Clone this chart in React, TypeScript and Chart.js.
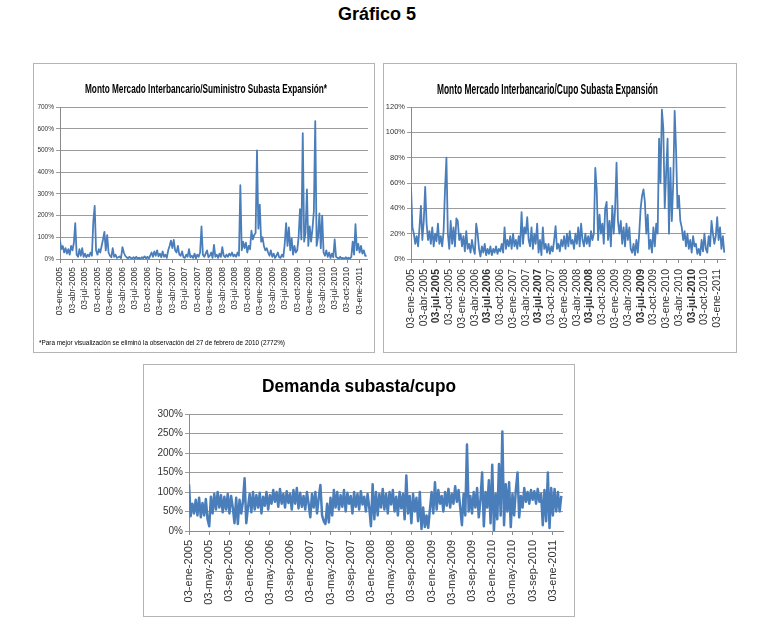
import React, { useEffect, useRef } from "react";
import { Chart, registerables } from "chart.js";

Chart.register(...registerables);

// ---------- data ----------
// Series sampled 3 times per month, starting 03-ene-2005 (month 0).
const SAMPLES_PER_MONTH = 3;

// Monto Mercado Interbancario / Suministro Subasta Expansión (%)
const SUMINISTRO = [
  85, 45, 60, 30, 50, 25, 45, 20, 60, 40, 75, 165, 20, 10, 45, 15, 50, 10,
  25, 8, 20, 12, 30, 15, 170, 245, 40, 20, 45, 30, 60, 90, 125, 40, 110, 30,
  15, 8, 50, 10, 20, 5, 8, 12, 4, 55, 30, 15, 8, 3, 10, 5, 2, 8,
  3, 10, 2, 6, 1, 8, 4, 12, 3, 10, 2, 15, 30, 10, 35, 15, 40, 12,
  25, 8, 35, 10, 20, 5, 40, 60, 85, 50, 88, 40, 30, 60, 20, 15, 35, 8,
  5, 20, 10, 45, 8, 15, 5, 25, 3, 20, 10, 30, 150, 20, 10, 25, 40, 8,
  15, 30, 5, 65, 10, 20, 5, 25, 10, 55, 15, 8, 20, 10, 25, 15, 30, 12,
  20, 10, 30, 15, 340, 40, 80, 50, 75, 30, 60, 45, 130, 90, 110, 120, 500, 140,
  250, 80, 100, 60, 40, 50, 30, 15, 40, 10, 25, 5, 15, 30, 8, 5, 20, 10,
  70, 165, 60, 145, 40, 95, 20, 60, 30, 40, 100, 230, 90, 580, 80, 120, 320, 60,
  150, 80, 140, 220, 635, 60, 100, 210, 50, 200, 30, 15, 40, 10, 30, 5, 25, 8,
  90, 10, 5, 3, 10, 2, 5, 1, 8, 2, 6, 1, 10, 80, 20, 160, 40, 70,
  30, 60, 25, 40, 15, 15,
];

// Monto Mercado Interbancario / Cupo Subasta Expansión (%)
const CUPO = [
  57, 25, 20, 12, 18, 10, 25, 42, 15, 30, 57, 28, 15, 22, 12, 25, 10, 20,
  14, 28, 12, 18, 10, 22, 55, 80, 20, 8, 30, 12, 25, 10, 32, 30, 15, 20,
  10, 18, 6, 22, 8, 12, 5, 15, 8, 4, 28, 20, 8, 2, 10, 5, 12, 3,
  8, 4, 10, 3, 8, 5, 10, 4, 8, 6, 12, 5, 25, 8, 15, 10, 18, 8,
  20, 10, 15, 8, 18, 10, 37, 12, 25, 20, 33, 15, 10, 25, 8, 20, 12, 28,
  5, 15, 3, 25, 8, 12, 5, 12, 4, 10, 6, 15, 26, 8, 12, 6, 15, 10,
  18, 8, 20, 10, 22, 12, 15, 8, 20, 12, 25, 10, 28, 15, 10, 20, 12, 18,
  10, 22, 15, 20, 72, 55, 15, 35, 20, 28, 12, 40, 45, 15, 30, 10, 42, 20,
  40, 76, 30, 20, 30, 12, 25, 10, 28, 15, 25, 8, 5, 12, 3, 15, 5, 20,
  40, 50, 55, 45, 20, 35, 8, 15, 5, 25, 10, 28, 20, 95, 60, 118, 103, 40,
  68, 95, 20, 72, 30, 60, 117, 86, 40, 50, 30, 25, 15, 22, 10, 20, 8, 15,
  5, 18, 10, 12, 4, 8, 3, 15, 6, 20, 8, 5, 18, 10, 30, 20, 12, 18,
  33, 15, 25, 8, 18, 5,
];

// Demanda subasta / cupo (%)
const DEMANDA = [
  120, 38, 70, 45, 80, 40, 85, 35, 72, 40, 82, 30, 12, 88, 45, 95, 55, 100,
  60, 92, 48, 88, 55, 95, 45, 90, 60, 20, 85, 18, 80, 45, 75, 135, 20, 60,
  95, 48, 100, 55, 92, 60, 98, 45, 88, 65, 100, 55, 92, 70, 105, 75, 100, 62,
  108, 70, 95, 60, 102, 72, 95, 55, 105, 70, 110, 58, 98, 62, 90, 55, 100, 70,
  35, 95, 60, 100, 45, 85, 118, 40, 25, 18, 70, 22, 85, 40, 105, 60, 100, 55,
  92, 62, 105, 50, 98, 70, 90, 45, 100, 62, 95, 55, 102, 68, 88, 50, 95, 60,
  12, 120, 30, 100, 40, 95, 60, 108, 55, 95, 45, 100, 68, 105, 50, 88, 40, 100,
  58, 95, 30, 142, 45, 90, 20, 95, 50, 85, 25, 100, 5, 60, 10, 40, 8, 55,
  100, 45, 125, 55, 105, 70, 90, 50, 100, 65, 108, 60, 95, 70, 115, 75, 105, 60,
  15, 95, 40, 222, 50, 90, 45, 100, 60, 110, 35, 80, 150, 12, 100, 60, 130, 20,
  170, 0, 95, 30, 172, 40, 255, 15, 120, 50, 125, 10, 95, 40, 105, 150, 35, 90,
  60, 110, 75, 100, 70, 105, 80, 102, 70, 108, 75, 95, 15, 105, 25, 150, 8, 110,
  40, 108, 50, 100, 50, 90,
];

// Tick positions (months since 03-ene-2005) and labels
const QUARTER_TICKS = [0, 3, 6, 9, 12, 15, 18, 21, 24, 27, 30, 33, 36, 39, 42, 45, 48, 51, 54, 57, 60, 63, 66, 69, 72];
const QUARTER_LABELS = [
  "03-ene-2005", "03-abr-2005", "03-jul-2005", "03-oct-2005",
  "03-ene-2006", "03-abr-2006", "03-jul-2006", "03-oct-2006",
  "03-ene-2007", "03-abr-2007", "03-jul-2007", "03-oct-2007",
  "03-ene-2008", "03-abr-2008", "03-jul-2008", "03-oct-2008",
  "03-ene-2009", "03-abr-2009", "03-jul-2009", "03-oct-2009",
  "03-ene-2010", "03-abr-2010", "03-jul-2010", "03-oct-2010",
  "03-ene-2011",
];
const FOURMONTH_TICKS = [0, 4, 8, 12, 16, 20, 24, 28, 32, 36, 40, 44, 48, 52, 56, 60, 64, 68, 72];
const FOURMONTH_LABELS = [
  "03-ene-2005", "03-may-2005", "03-sep-2005",
  "03-ene-2006", "03-may-2006", "03-sep-2006",
  "03-ene-2007", "03-may-2007", "03-sep-2007",
  "03-ene-2008", "03-may-2008", "03-sep-2008",
  "03-ene-2009", "03-may-2009", "03-sep-2009",
  "03-ene-2010", "03-may-2010", "03-sep-2010",
  "03-ene-2011",
];

const X_MAX = 74;

// ---------- styles ----------
const BLUE = "#4a7ebb";
const GRID = "#9c9c9c";
const AXIS = "#8a8a8a";
const LABEL = "#333333";
const SANS = '"Liberation Sans", Arial, sans-serif';

type TextItem = { text: string; x: number; y: number; font: string; maxWidth: number; align: CanvasTextAlign };

type PanelProps = {
  left: number; top: number; width: number; height: number;
  values: number[];
  yMax: number; yStep: number;
  plot: { left: number; right: number; top: number; bottom: number };
  xTicks: number[]; xLabels: string[];
  xFont: { family: string; size: number };
  yFont: { family: string; size: number };
  xPad: number;
  lineWidth: number;
  boldLabel?: (label: string, index: number) => boolean;
  texts: TextItem[];
};

function Panel(p: PanelProps) {
  const ref = useRef<HTMLCanvasElement | null>(null);
  useEffect(() => {
    if (!ref.current) return;
    const points = p.values.map((v, i) => ({ x: i / SAMPLES_PER_MONTH, y: v }));
    const textPlugin = {
      id: "panelText",
      afterDraw(chart: any) {
        const ctx = chart.ctx as CanvasRenderingContext2D;
        ctx.save();
        ctx.fillStyle = "#000";
        ctx.textBaseline = "middle";
        for (const t of p.texts) {
          ctx.font = t.font;
          ctx.textAlign = t.align;
          ctx.fillText(t.text, t.x, t.y, t.maxWidth);
        }
        ctx.restore();
      },
    };
    const chart = new Chart(ref.current, {
      type: "line",
      data: {
        datasets: [
          {
            data: points,
            borderColor: BLUE,
            backgroundColor: BLUE,
            borderWidth: p.lineWidth,
            borderJoinStyle: "round",
            pointRadius: 0,
            tension: 0,
            fill: false,
          },
        ],
      },
      options: {
        responsive: false,
        animation: false,
        events: [],
        layout: { padding: { left: 0, right: p.width - p.plot.right, top: p.plot.top, bottom: 0 } },
        plugins: { legend: { display: false }, title: { display: false }, tooltip: { enabled: false } },
        scales: {
          x: {
            type: "linear",
            min: 0,
            max: X_MAX,
            afterBuildTicks: (axis: any) => {
              axis.ticks = p.xTicks.map((v) => ({ value: v }));
            },
            afterFit: (s: any) => {
              s.height = p.height - p.plot.bottom;
            },
            ticks: {
              autoSkip: false,
              minRotation: 90,
              maxRotation: 90,
              padding: p.xPad,
              color: LABEL,
              font: (c: any) => ({
                family: p.xFont.family,
                size: p.xFont.size,
                weight: p.boldLabel && p.boldLabel(p.xLabels[c.index] || "", c.index) ? "bold" : "normal",
              }),
              callback: (_v: any, i: number) => p.xLabels[i],
            },
            grid: { drawOnChartArea: false, drawTicks: true, tickLength: 4, color: AXIS },
            border: { display: true, color: AXIS },
          },
          y: {
            min: 0,
            max: p.yMax,
            afterFit: (s: any) => {
              s.width = p.plot.left;
            },
            ticks: {
              stepSize: p.yStep,
              padding: 2,
              color: LABEL,
              font: p.yFont,
              callback: (v: any) => v + "%",
            },
            grid: { color: GRID, drawTicks: true, tickLength: 4 },
            border: { display: true, color: AXIS },
          },
        },
      },
      plugins: [textPlugin],
    } as any);
    return () => chart.destroy();
  }, []);
  return (
    <div
      style={{
        position: "absolute",
        left: p.left - 1,
        top: p.top - 1,
        width: p.width,
        height: p.height,
        border: "1px solid #b4b4b4",
        background: "#fff",
      }}
    >
      <canvas ref={ref} width={p.width} height={p.height} style={{ display: "block", width: p.width, height: p.height }} />
    </div>
  );
}

export default function App() {
  return (
    <div style={{ position: "absolute", left: 0, top: 0, width: 773, height: 638, background: "#fff", overflow: "hidden" }}>
      <div
        style={{
          position: "absolute",
          left: 277,
          top: 5,
          width: 200,
          textAlign: "center",
          font: `bold 18px ${SANS}`,
          lineHeight: "18px",
          color: "#000",
        }}
      >
        Gráfico 5
      </div>
      <Panel
        left={34}
        top={64}
        width={340}
        height={288}
        values={SUMINISTRO}
        yMax={700}
        yStep={100}
        plot={{ left: 26, right: 334, top: 43, bottom: 195 }}
        xTicks={QUARTER_TICKS}
        xLabels={QUARTER_LABELS}
        xFont={{ family: SANS, size: 8.5 }}
        yFont={{ family: SANS, size: 6.5 }}
        xPad={4}
        lineWidth={1.8}
        texts={[
          { text: "Monto Mercado Interbancario/Suministro Subasta Expansión*", x: 172, y: 25, font: `bold 13px ${SANS}`, maxWidth: 242, align: "center" },
          { text: "*Para mejor visualización se eliminó la observación del 27 de febrero de 2010 (2772%)", x: 5, y: 279, font: `7.5px ${SANS}`, maxWidth: 246, align: "left" },
        ]}
      />
      <Panel
        left={384}
        top={64}
        width={352}
        height={288}
        values={CUPO}
        yMax={120}
        yStep={20}
        plot={{ left: 27, right: 344, top: 43, bottom: 195 }}
        xTicks={QUARTER_TICKS}
        xLabels={QUARTER_LABELS}
        xFont={{ family: SANS, size: 10.5 }}
        yFont={{ family: SANS, size: 7.5 }}
        xPad={6}
        lineWidth={1.8}
        boldLabel={(label) => label.indexOf("-jul-") >= 0}
        texts={[
          { text: "Monto Mercado Interbancario/Cupo Subasta Expansión", x: 163.5, y: 26, font: `bold 14px ${SANS}`, maxWidth: 221, align: "center" },
        ]}
      />
      <Panel
        left={144}
        top={365}
        width={430}
        height={251}
        values={DEMANDA}
        yMax={300}
        yStep={50}
        plot={{ left: 45, right: 419, top: 49, bottom: 166 }}
        xTicks={FOURMONTH_TICKS}
        xLabels={FOURMONTH_LABELS}
        xFont={{ family: SANS, size: 11 }}
        yFont={{ family: SANS, size: 10 }}
        xPad={5}
        lineWidth={2.5}
        texts={[
          { text: "Demanda subasta/cupo", x: 215, y: 22.5, font: `bold 18px ${SANS}`, maxWidth: 194, align: "center" },
        ]}
      />
    </div>
  );
}
